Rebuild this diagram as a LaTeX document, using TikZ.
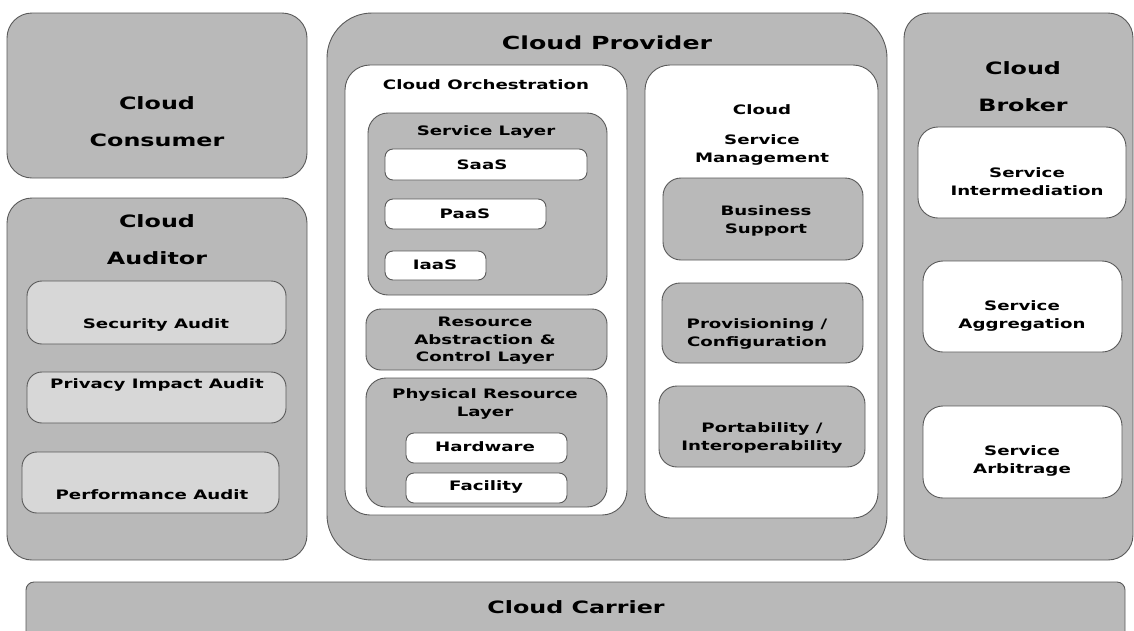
\documentclass[tikz,border=0pt]{standalone}
\usepackage{fontspec}
\setmainfont{DejaVu Sans}[FakeStretch=1.4]
\definecolor{cellgray}{HTML}{B9B9B9}
\definecolor{auditgray}{HTML}{D7D7D7}
\begin{document}
\begin{tikzpicture}[x=1pt, y=-1pt, line join=round, line cap=round,
		gbox/.style={draw=black!65, line width=0.9pt, fill=cellgray},
		wbox/.style={draw=black!65, line width=0.9pt, fill=white},
		abox/.style={draw=black!65, line width=0.9pt, fill=auditgray},
		title/.style={font=\fontsize{17}{37}\selectfont\bfseries, align=center},
		lbl/.style={font=\fontsize{13}{18}\selectfont\bfseries, align=center}]
		\useasboundingbox (0,0) rectangle (1134,630);
		% consumer and auditor
		\draw[gbox, rounded corners=25pt] (7,13) rectangle (307,178);
		\node[title] (consumer) at (157,122) {Cloud\\Consumer};
		\draw[gbox, rounded corners=25pt] (7,198) rectangle (307,560);
		\node[title] (auditor) at (157,240) {Cloud\\Auditor};
		\draw[abox, rounded corners=15pt] (27,281) rectangle (286,344);
		\node[lbl] (secaudit) at (156,325) {Security Audit};
		\draw[abox, rounded corners=15pt] (27,372) rectangle (286,423);
		\node[lbl] (privaudit) at (157,385) {Privacy Impact Audit};
		\draw[abox, rounded corners=15pt] (22,452) rectangle (279,513);
		\node[lbl] (perfaudit) at (152,495) {Performance Audit};
		% provider
		\draw[gbox, rounded corners=45pt] (327,13) rectangle (887,560);
		\node[title, font=\fontsize{18}{37}\selectfont\bfseries] (provider) at (607,43) {Cloud Provider};
		\draw[wbox, rounded corners=25pt] (345,65) rectangle (627,515);
		\node[lbl] (orch) at (486,85) {Cloud Orchestration};
		\draw[gbox, rounded corners=20pt] (368,113) rectangle (607,295);
		\node[lbl] (svclayer) at (486,132) {Service Layer};
		\draw[wbox, rounded corners=8pt] (385,149) rectangle (587,180);
		\node[lbl] (saas) at (482,165) {SaaS};
		\draw[wbox, rounded corners=8pt] (385,199) rectangle (546,229);
		\node[lbl] (paas) at (465,214) {PaaS};
		\draw[wbox, rounded corners=8pt] (385,251) rectangle (486,280);
		\node[lbl] (iaas) at (435,265) {IaaS};
		\draw[gbox, rounded corners=15pt] (366,309) rectangle (607,370);
		\node[lbl, font=\fontsize{13}{17.5}\selectfont\bfseries] (rac) at (485,341) {Resource\\Abstraction \&\\Control Layer};
		\draw[gbox, rounded corners=20pt] (366,378) rectangle (607,507);
		\node[lbl] (phys) at (485,404) {Physical Resource\\Layer};
		\draw[wbox, rounded corners=8pt] (406,433) rectangle (567,463);
		\node[lbl] (hw) at (485,447) {Hardware};
		\draw[wbox, rounded corners=8pt] (406,473) rectangle (567,503);
		\node[lbl] (fac) at (486,487) {Facility};
		\draw[wbox, rounded corners=25pt] (645,65) rectangle (878,518);
		\node[lbl] (csm) at (762,135) {Cloud\\[12pt]Service\\Management};
		\draw[gbox, rounded corners=18pt] (663,178) rectangle (863,260);
		\node[lbl] (busi) at (766,221) {Business\\Support};
		\draw[gbox, rounded corners=18pt] (662,283) rectangle (863,363);
		\node[lbl] (prov) at (757,334) {Provisioning /\\Configuration};
		\draw[gbox, rounded corners=18pt] (659,386) rectangle (865,467);
		\node[lbl] (port) at (762,438) {Portability /\\Interoperability};
		% broker
		\draw[gbox, rounded corners=25pt] (904,13) rectangle (1133,560);
		\node[title] (broker) at (1023,87) {Cloud\\Broker};
		\draw[wbox, rounded corners=20pt] (918,127) rectangle (1126,218);
		\node[lbl] (inter) at (1027,182) {Service\\Intermediation};
		\draw[wbox, rounded corners=20pt] (923,261) rectangle (1122,352);
		\node[lbl] (aggr) at (1022,316) {Service\\Aggregation};
		\draw[wbox, rounded corners=20pt] (923,406) rectangle (1122,498);
		\node[lbl] (arb) at (1022,461) {Service\\Arbitrage};
		% carrier
		\draw[gbox, rounded corners=8pt] (26,582) rectangle (1125,640);
		\node[title] (carrier) at (576,607) {Cloud Carrier};
\end{tikzpicture}
\end{document}
